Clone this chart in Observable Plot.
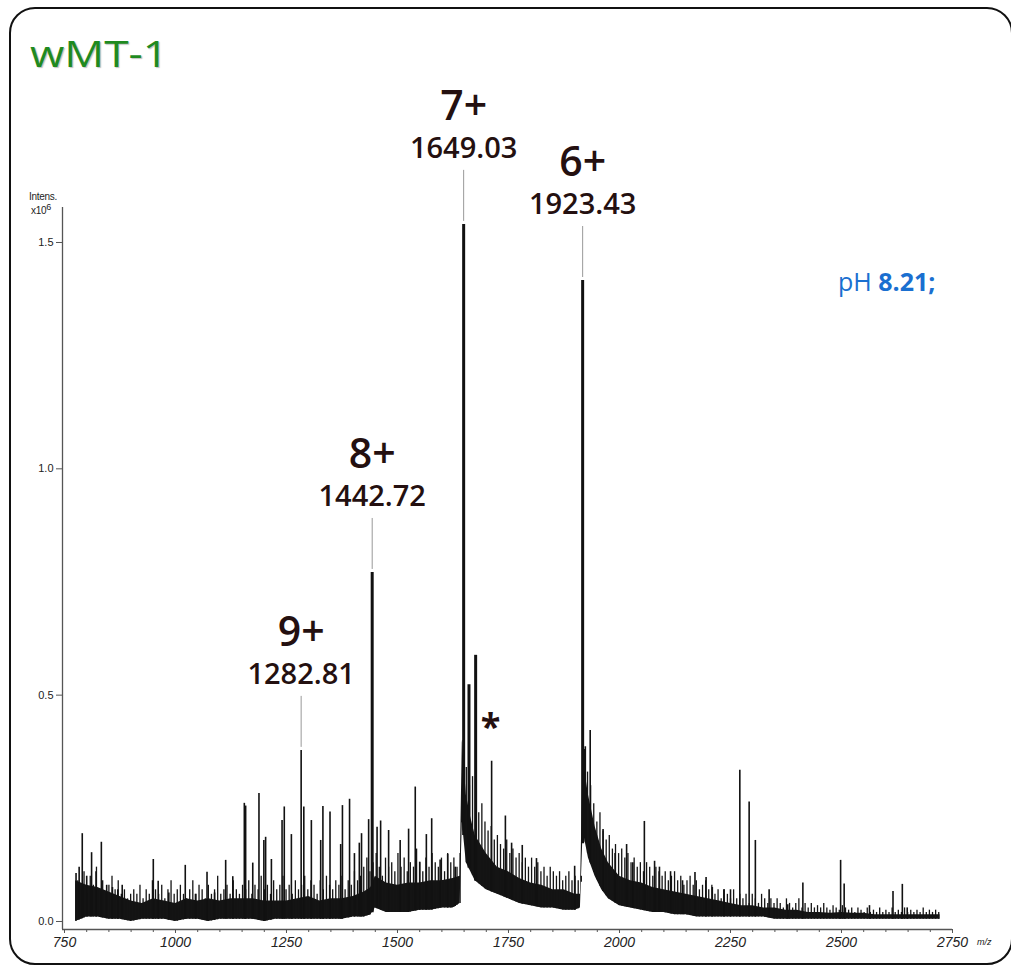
<!DOCTYPE html>
<html>
<head>
<meta charset="utf-8">
<script src="https://cdn.jsdelivr.net/npm/d3@7"></script>
<script src="https://cdn.jsdelivr.net/npm/@observablehq/plot@0.6"></script>
<style>
  html, body { margin: 0; padding: 0; background: #fff; }
  #wrap { position: relative; width: 1011px; height: 972px; overflow: hidden; font-family: "Liberation Sans", Arial, sans-serif; }
  #frame { position: absolute; left: 9px; top: 7px; width: 1004px; height: 958px; border: 2px solid #111; border-radius: 26px; box-sizing: border-box; }
  #title { position: absolute; left: 30px; top: 36px; font-family: "Open Sans", sans-serif; font-size: 36px; color: #1f8a1f; line-height: 1; transform: scale(1.23, 1); transform-origin: 0 0; text-shadow: 1px 1px 1px rgba(0,0,0,0.25); }
  #ph { position: absolute; left: 838px; top: 269px; font-family: "Open Sans", sans-serif; font-size: 25px; color: #1a6fd0; line-height: 1; }
  #ph b { font-weight: 700; }
  #ylab { position: absolute; left: 29px; top: 191px; font-size: 10px; color: #222; line-height: 11px; letter-spacing: -0.3px; }
  #ylab div + div { padding-left: 2px; }
  #mz { position: absolute; left: 977px; top: 937px; font-size: 9px; font-style: italic; color: #222; }
  #chart { position: absolute; left: 0; top: 0; }
</style>
</head>
<body>
<div id="wrap">
  <div id="frame"></div>
  <div id="chart"></div>
  <div id="title">wMT-1</div>
  <div id="ph">pH <b>8.21;</b></div>
  <div id="ylab"><div>Intens.</div><div>x10<sup style="font-size:9px">6</sup></div></div>
  <div id="mz">m/z</div>
</div>
<script>
// ---- Data (intensity in units of 10^6) ----
// dense core of the noise band, sampled along m/z
const noiseMz = [775,800,825,850,875,900,925,950,975,1000,1025,1050,1075,1100,1125,1150,1175,1200,1225,1250,1275,1300,1325,1350,1375,1400,1425,1440,1450,1475,1500,1525,1550,1575,1600,1625,1641,1646,1655,1665,1675,1700,1725,1750,1775,1800,1825,1850,1875,1900,1912,1918,1930,1945,1960,1975,2000,2025,2050,2075,2100,2125,2150,2175,2200,2225,2250,2275,2300,2325,2350,2375,2400,2425,2450,2475,2500,2525,2550,2575,2600,2625,2650,2675,2700,2722];
const noiseLo = [0.00,0.01,0.01,0.005,0.005,0.00,0.005,0.005,0.005,0.00,0.005,0.005,0.00,0.005,0.005,0.005,0.005,0.00,0.005,0.005,0.005,0.005,0.005,0.005,0.005,0.01,0.01,0.015,0.03,0.02,0.02,0.02,0.025,0.025,0.03,0.03,0.04,0.22,0.13,0.11,0.09,0.07,0.06,0.05,0.04,0.035,0.03,0.03,0.025,0.025,0.03,0.20,0.14,0.10,0.07,0.05,0.035,0.03,0.025,0.02,0.02,0.015,0.015,0.01,0.01,0.01,0.01,0.01,0.01,0.01,0.005,0.005,0.005,0.005,0.005,0.005,0.005,0.005,0.005,0.005,0.005,0.005,0.005,0.005,0.005,0.005];
const noiseHi = [0.09,0.08,0.075,0.065,0.055,0.045,0.04,0.05,0.045,0.04,0.05,0.045,0.05,0.045,0.05,0.05,0.05,0.045,0.045,0.045,0.05,0.055,0.045,0.05,0.05,0.055,0.065,0.075,0.10,0.085,0.08,0.085,0.085,0.09,0.09,0.095,0.10,0.40,0.28,0.23,0.19,0.15,0.12,0.11,0.095,0.085,0.08,0.07,0.07,0.06,0.06,0.36,0.28,0.21,0.16,0.13,0.10,0.09,0.085,0.075,0.07,0.065,0.06,0.055,0.05,0.045,0.04,0.035,0.035,0.03,0.03,0.025,0.025,0.02,0.02,0.018,0.02,0.018,0.018,0.015,0.015,0.015,0.015,0.015,0.015,0.015];

// fine noise spikes above the band: one every 7 m/z starting at 780
const spikeStart = 780, spikeStep = 7;
const spikeInt = [
  0.09,0.07,0.11,0.06,0.10,0.08,0.12,0.07,0.09,0.06,0.08,0.10,0.07,0.09,0.06,0.07,0.05,0.06,
  0.07,0.06,0.08,0.05,0.07,0.06,0.09,0.07,0.06,0.08,0.05,0.07,0.09,0.06,0.07,0.08,0.06,0.05,0.07,0.09,
  0.06,0.08,0.07,0.05,0.08,0.06,0.07,0.10,0.06,0.07,0.08,0.06,0.09,0.07,0.06,0.08,0.07,0.09,0.06,0.08,
  0.07,0.10,0.07,0.08,0.06,0.09,0.07,0.08,0.10,0.07,0.08,0.06,0.09,0.07,0.08,0.10,0.07,0.09,0.08,0.06,
  0.09,0.07,0.10,0.08,0.07,0.09,0.08,0.10,0.07,0.09,0.08,0.11,0.09,0.10,
  0.12,0.14,0.11,0.13,0.15,0.12,0.10,0.14,0.12,0.13,0.11,0.15,0.12,0.14,0.11,0.13,
  0.12,0.16,0.13,0.11,0.14,0.12,0.15,0.13,0.12,0.14,0.11,0.15,0.13,0.14,0.12,0.15,
  0.40,0.34,0.30,0.32,0.27,0.24,0.26,0.22,0.20,0.21,0.18,0.19,0.17,0.16,0.18,0.15,0.16,0.14,0.15,
  0.13,0.14,0.12,0.14,0.12,0.13,0.11,0.12,0.10,0.12,0.11,0.10,0.11,0.09,0.10,0.11,0.09,0.10,0.09,
  0.10,0.38,0.33,0.30,0.26,0.22,0.24,0.20,0.18,0.19,0.16,0.17,0.15,0.16,0.14,0.15,0.13,0.14,0.12,0.13,0.11,
  0.13,0.12,0.10,0.12,0.11,0.10,0.11,0.09,0.10,0.11,0.09,0.10,0.08,0.09,0.10,0.08,0.09,0.07,0.08,0.09,0.07,
  0.08,0.06,0.07,0.05,0.07,0.06,0.05,0.07,0.05,0.06,
  0.05,0.06,0.04,0.06,0.05,0.04,0.06,0.05,0.04,0.05,
  0.04,0.05,0.04,0.03,0.05,0.04,0.03,0.04,0.05,0.03,
  0.04,0.03,0.04,0.03,0.035,0.03,0.04,0.03,0.025,0.035,
  0.03,0.025,0.035,0.03,0.025,0.03,0.02,0.03,0.025,0.02,
  0.03,0.02,0.025,0.02,0.03,0.02,0.025,0.02,0.03,0.02,
  0.025,0.02,0.03,0.02,0.025,0.02,0.025,0.02,0.03,0.02,
  0.025,0.02,0.025,0.02
];

// individual spectral peaks (m/z, intensity)
const peakMz  = [776,783,790,800,811,821,833,845,858,870,880,950,961,985,1022,1045,1071,1088,1113,1129,1155,1158,1174,1188,1199,1203,1216,1240,1245,1261,1283,1289,1306,1327,1332,1348,1372,1376,1392,1403,1414,1419,1435,1443,1454,1462,1480,1506,1525,1540,1550,1565,1577,1596,1613,1630,1649,1661,1676,1712,1743,1757,1781,1813,1899,1917,1923,1934,1963,1990,2016,2030,2056,2079,2090,2115,2142,2170,2195,2209,2235,2250,2271,2292,2306,2337,2379,2413,2498,2506,2563,2616,2637,2648];
const peakInt = [0.106,0.12,0.194,0.10,0.152,0.11,0.175,0.08,0.075,0.07,0.08,0.137,0.089,0.063,0.124,0.06,0.109,0.063,0.135,0.099,0.261,0.255,0.129,0.283,0.179,0.186,0.137,0.223,0.253,0.192,0.378,0.253,0.223,0.179,0.254,0.242,0.17,0.256,0.27,0.15,0.173,0.194,0.225,0.771,0.208,0.222,0.201,0.179,0.204,0.297,0.131,0.192,0.227,0.136,0.148,0.12,1.54,0.523,0.588,0.354,0.233,0.173,0.168,0.139,0.122,1.416,0.386,0.422,0.203,0.15,0.17,0.13,0.221,0.133,0.12,0.11,0.09,0.108,0.097,0.075,0.07,0.07,0.334,0.264,0.179,0.07,0.037,0.085,0.135,0.083,0.035,0.066,0.082,0.03];

// annotated ions
const ionCharge = ["9+","8+","7+","6+"];
const ionLabel  = ["1282.81","1442.72","1649.03","1923.43"];
const ionMz     = [1283,1443,1649,1917];
const ionInt    = [0.378,0.771,1.54,1.416];

// asterisk-marked peak
const starMz = [1712], starInt = [0.354];

// axes
const xMajor = [750,1000,1250,1500,1750,2000,2250,2500,2750];
const xMinor = d3.range(750, 2751, 50);
const yTicks = [0,0.5,1.0,1.5];
const xDomain = [745.5, 2750];
const yDomain = [-0.0177, 1.5773];

// ---- tables ----
const noise = noiseMz.map((m,i) => ({mz: m, lo: noiseLo[i], hi: noiseHi[i]}));
const loAt = mz => {
  const i = Math.max(1, Math.min(noiseMz.length - 1, d3.bisectLeft(noiseMz, mz)));
  const t = (mz - noiseMz[i-1]) / (noiseMz[i] - noiseMz[i-1]);
  return noiseLo[i-1] + Math.max(0, Math.min(1, t)) * (noiseLo[i] - noiseLo[i-1]);
};
const spikes = spikeInt.map((v,i) => ({mz: spikeStart + i * spikeStep, v}));
const peaks = peakMz.map((m,i) => ({mz: m, v: peakInt[i]}));
const ions  = ionMz.map((m,i) => ({mz: m, v: ionInt[i], charge: ionCharge[i], label: ionLabel[i]}));
const stars = starMz.map((m,i) => ({mz: m, v: starInt[i]}));

const pxPerUnit = (929 - 207) / (yDomain[1] - yDomain[0]);
const labelColor = "#241010";

const chart = Plot.plot({
  width: 1011,
  height: 972,
  marginLeft: 62,
  marginRight: 59,
  marginTop: 207,
  marginBottom: 43,
  style: {background: "transparent", fontFamily: "'Liberation Sans', Arial, sans-serif", color: "#222", overflow: "visible"},
  x: {domain: xDomain, label: null},
  y: {domain: yDomain, label: null},
  marks: [
    // axis lines
    Plot.ruleY([yDomain[0]], {stroke: "#555", strokeWidth: 1.3}),
    Plot.ruleX([xDomain[0]], {stroke: "#555", strokeWidth: 1.3}),
    Plot.axisX({ticks: xMinor, tickSize: 3, tickFormat: () => "", label: null, stroke: "#555"}),
    Plot.axisX({ticks: xMajor, tickSize: 4, tickPadding: 4, fontSize: 14, fontStyle: "italic", tickFormat: d3.format("d"), label: null, stroke: "#555"}),
    Plot.axisY({ticks: yTicks, tickSize: 6, tickPadding: 3, fontSize: 11, tickFormat: d3.format(".1f"), label: null, stroke: "#555"}),
    // spectrum noise band
    Plot.areaY(noise, {x: "mz", y1: "lo", y2: "hi", fill: "#141414"}),
    // fine noise spikes
    Plot.ruleX(spikes, {x: "mz", y1: d => loAt(d.mz), y2: "v", stroke: "#141414", strokeWidth: 1.3}),
    // spectral peaks
    Plot.ruleX(peaks, {x: "mz", y1: d => loAt(d.mz), y2: "v", stroke: "#111", strokeWidth: d => d.v > 0.5 ? 3 : 1.6}),
    // leader lines
    Plot.ruleX(ions, {x: "mz", y1: d => d.v + 3 / pxPerUnit, y2: d => d.v + 54 / pxPerUnit, stroke: "#999", strokeWidth: 1}),
    // ion labels
    Plot.text(ions, {x: "mz", y: "v", text: "label", dy: -76, fontSize: 29, fontWeight: 600, fontFamily: "'Open Sans', sans-serif", fill: labelColor}),
    Plot.text(ions, {x: "mz", y: "v", text: "charge", dy: -118, fontSize: 41, fontWeight: 600, fontFamily: "'Open Sans', sans-serif", fill: labelColor}),
    Plot.text(stars, {x: "mz", y: "v", text: () => "*", dx: -1, dy: -34, fontSize: 36, fontWeight: 700, fontFamily: "'Open Sans', sans-serif", fill: labelColor})
  ]
});
document.getElementById("chart").appendChild(chart);
</script>
</body>
</html>
